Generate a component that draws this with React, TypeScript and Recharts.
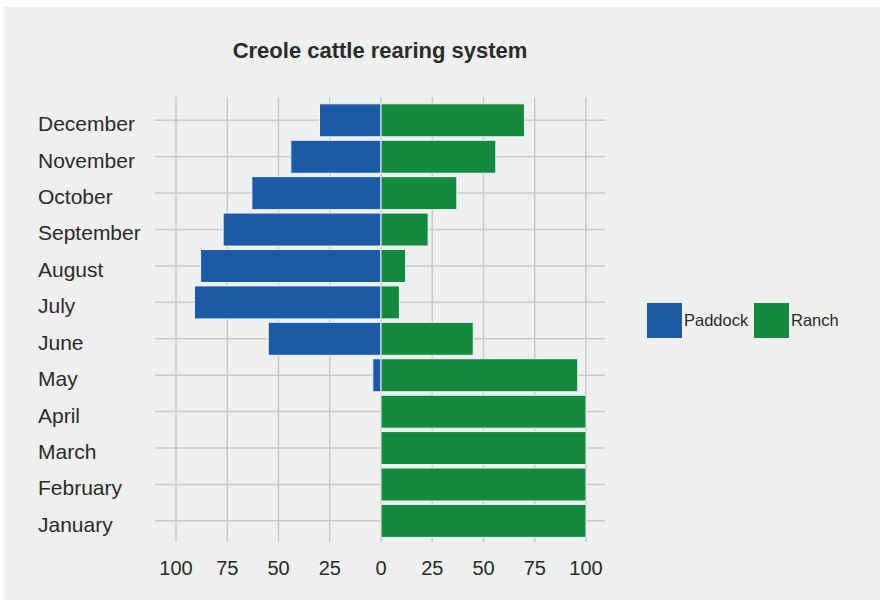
import React from 'react';
import { BarChart, Bar, XAxis, YAxis, CartesianGrid } from 'recharts';

// Months, bottom to top on the category axis
const months = [
  'January', 'February', 'March', 'April', 'May', 'June',
  'July', 'August', 'September', 'October', 'November', 'December',
];

// Share of herds (%) in each rearing system, per month
const paddock = [0, 0, 0, 0, 4, 55, 91, 88, 77, 63, 44, 30];
const ranch = [100, 100, 100, 100, 96, 45, 9, 12, 23, 37, 56, 70];

const xTicks = [-100, -75, -50, -25, 0, 25, 50, 75, 100];

const seriesNames = ['Paddock', 'Ranch'];
const seriesColors = ['#1b5aa5', '#148a3e'];

const title = 'Creole cattle rearing system';

// Paddock is drawn to the left of zero, Ranch to the right
const rows = months.map((m, i) => ({
  month: m,
  Paddock: -paddock[i],
  Ranch: ranch[i],
}));

const FONT = '"Liberation Sans", Arial, sans-serif';
const TEXT = '#2b2b2b';

const MonthTick = (props: any) => {
  const { y, payload } = props;
  return (
    <text x={38} y={y + 11} textAnchor="start" fontFamily={FONT} fontSize={21} fill={TEXT}>
      {payload.value}
    </text>
  );
};

const ValueTick = (props: any) => {
  const { x, y, payload } = props;
  return (
    <text x={x} y={y + 33} textAnchor="middle" fontFamily={FONT} fontSize={20} fill={TEXT}>
      {Math.abs(payload.value)}
    </text>
  );
};

export default function App() {
  return (
    <div style={{ position: 'absolute', left: 0, top: 0, width: 880, height: 602, background: '#ffffff', overflow: 'hidden' }}>
      <div style={{ position: 'absolute', left: 4, top: 7, width: 876, height: 593, background: '#eeefef' }} />
      <div style={{ position: 'absolute', left: 0, top: 0 }}>
        <BarChart
          width={880}
          height={602}
          data={rows}
          layout="vertical"
          stackOffset="sign"
          barCategoryGap="5%"
          margin={{ top: 97, right: 275, bottom: 0, left: 0 }}
        >
          {/* grid only at tick positions, without the outer frame */}
          <CartesianGrid stroke="#c9c9c9" strokeWidth={1.5} syncWithTicks />
          <XAxis
            type="number"
            domain={[-100, 100]}
            ticks={xTicks}
            padding={{ left: 21, right: 19 }}
            axisLine={false}
            tickLine={false}
            tickSize={0}
            tickMargin={0}
            height={60}
            tick={<ValueTick />}
            interval={0}
          />
          <YAxis
            type="category"
            dataKey="month"
            reversed
            width={155}
            padding={{ top: 5, bottom: 3 }}
            axisLine={false}
            tickLine={false}
            tick={<MonthTick />}
            interval={0}
          />
          <Bar dataKey="Paddock" stackId="s" fill={seriesColors[0]} stroke="#eef4fa" strokeWidth={1} isAnimationActive={false} />
          <Bar dataKey="Ranch" stackId="s" fill={seriesColors[1]} stroke="#eef4fa" strokeWidth={1} isAnimationActive={false} />
        </BarChart>
      </div>
      <svg width={880} height={602} style={{ position: 'absolute', left: 0, top: 0, pointerEvents: 'none' }}>
        <text x={380} y={58} textAnchor="middle" fontFamily={FONT} fontSize={22} fontWeight="bold" fill={TEXT}>
          {title}
        </text>
        {seriesNames.map((name, i) => {
          const x0 = i === 0 ? 647 : 754;
          return (
            <g key={name}>
              <rect x={x0} y={303} width={35} height={35} fill={seriesColors[i]} />
              <text x={x0 + 37} y={326} fontFamily={FONT} fontSize={16.5} fill={TEXT}>
                {name}
              </text>
            </g>
          );
        })}
      </svg>
    </div>
  );
}
